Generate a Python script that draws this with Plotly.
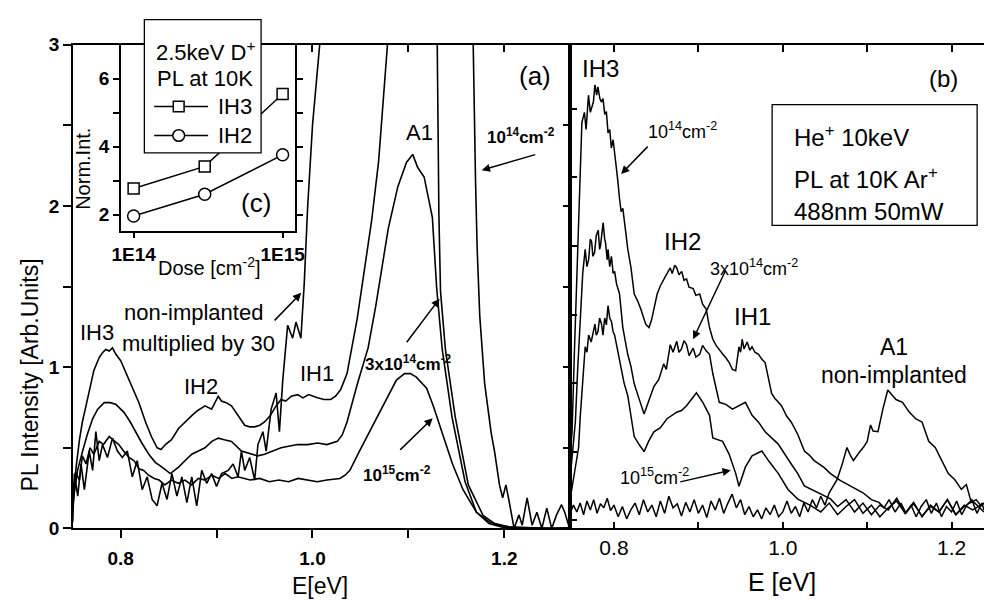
import plotly.graph_objects as go

FONT = "Liberation Sans"
W, H = 994, 607

# ---------------- panel (a): 2.5 keV D+ implanted, PL intensity ----------------
# non-implanted, multiplied by 30
E_a_ni = [0.750, 0.7517, 0.7552, 0.7586, 0.7621, 0.7672, 0.7707, 0.7741, 0.7776, 0.781,
          0.7862, 0.7914, 0.7966, 0.8017, 0.8069, 0.8121, 0.8172, 0.8224, 0.8276, 0.8328,
          0.8379, 0.8431, 0.8483, 0.8534, 0.8586, 0.8638, 0.869, 0.8741, 0.8793, 0.8845,
          0.8897, 0.8948, 0.9, 0.9052, 0.9121, 0.9172, 0.9224, 0.9259, 0.9293, 0.9345,
          0.9397, 0.9431, 0.9483, 0.9517, 0.9569, 0.9621, 0.9655, 0.969, 0.9741, 0.9793,
          0.9828, 0.9879, 0.9914, 0.995, 1.0, 1.007, 1.03, 1.10, 1.15, 1.1676,
          1.1686, 1.17, 1.1717, 1.1744, 1.1795, 1.1864, 1.1898, 1.195, 1.1983, 1.2017,
          1.205, 1.2102, 1.2153, 1.2187, 1.2238, 1.229, 1.234, 1.2392, 1.2443, 1.2494,
          1.2545, 1.2597, 1.263, 1.2682]
I_a_ni = [0.04, 0.34, 0.20, 0.40, 0.24, 0.48, 0.36, 0.60, 0.42, 0.52,
          0.44, 0.56, 0.48, 0.44, 0.48, 0.32, 0.42, 0.24, 0.32, 0.18,
          0.14, 0.28, 0.18, 0.34, 0.20, 0.32, 0.16, 0.32, 0.14, 0.36,
          0.28, 0.34, 0.26, 0.34, 0.36, 0.40, 0.32, 0.48, 0.36, 0.44,
          0.30, 0.52, 0.60, 0.48, 0.74, 0.84, 0.60, 0.92, 1.26, 1.18,
          1.28, 1.18, 1.52, 2.0, 2.5, 3.05, 4.5, 5.0, 4.2, 3.0,
          2.58, 2.16, 1.74, 1.32, 0.90, 0.59, 0.48, 0.27, 0.19, 0.27,
          0.17, 0.0, 0.084, 0.02, 0.19, 0.02, 0.10, 0.0, 0.126, 0.0,
          0.084, 0.147, 0.10, 0.0]

# 1e14 cm-2
E_a_14 = [0.750, 0.7535, 0.757, 0.760, 0.7638, 0.768, 0.772, 0.7776, 0.781, 0.7845,
          0.788, 0.7914, 0.795, 0.800, 0.806, 0.812, 0.819, 0.8259, 0.832, 0.838,
          0.842, 0.8466, 0.853, 0.8603, 0.867, 0.8741, 0.880, 0.8879, 0.8948, 0.898,
          0.9017, 0.905, 0.910, 0.9155, 0.922, 0.9293, 0.9345, 0.9397, 0.945, 0.950,
          0.956, 0.962, 0.9672, 0.972, 0.978, 0.9845, 0.990, 0.996, 1.0052, 1.012,
          1.019, 1.024, 1.0293, 1.036, 1.0466, 1.054, 1.0617, 1.069, 1.075, 1.082,
          1.10, 1.12, 1.1301, 1.1318, 1.1335, 1.1386, 1.1489, 1.1625, 1.1779, 1.19,
          1.205, 1.23, 1.25, 1.2686]
I_a_14 = [0.12, 0.38, 0.55, 0.66, 0.76, 0.88, 0.98, 1.06, 1.09, 1.11,
          1.10, 1.12, 1.08, 1.04, 0.96, 0.88, 0.78, 0.66, 0.57, 0.50,
          0.49, 0.52, 0.55, 0.62, 0.66, 0.70, 0.73, 0.76, 0.74, 0.78,
          0.82, 0.79, 0.78, 0.76, 0.70, 0.64, 0.63, 0.63, 0.64, 0.66,
          0.70, 0.76, 0.80, 0.79, 0.82, 0.83, 0.81, 0.83, 0.81, 0.80,
          0.80, 0.82, 0.86, 0.96, 1.30, 1.60, 1.91, 2.28, 2.74, 3.30,
          4.20, 3.60, 3.00, 1.95, 1.47, 1.11, 0.69, 0.27, 0.08, 0.03,
          0.01, 0.005, 0.0, 0.005]

# 3e14 cm-2
E_a_3e14 = [0.750, 0.755, 0.7603, 0.765, 0.7707, 0.776, 0.7828, 0.789, 0.7948, 0.8034,
            0.810, 0.8155, 0.822, 0.8293, 0.836, 0.8431, 0.8517, 0.856, 0.8603, 0.867,
            0.8741, 0.881, 0.8879, 0.895, 0.9017, 0.908, 0.9155, 0.9259, 0.9362, 0.943,
            0.950, 0.958, 0.9672, 0.975, 0.9845, 0.995, 1.0052, 1.015, 1.0259, 1.031,
            1.036, 1.047, 1.058, 1.066, 1.072, 1.079, 1.089, 1.098, 1.1045, 1.1096,
            1.1164, 1.120, 1.125, 1.1295, 1.1353, 1.1455, 1.1591, 1.171, 1.1846, 1.200,
            1.220, 1.2686]
I_a_3e14 = [0.15, 0.36, 0.48, 0.58, 0.68, 0.74, 0.78, 0.78, 0.77, 0.72,
            0.66, 0.60, 0.53, 0.46, 0.41, 0.38, 0.34, 0.36, 0.38, 0.42,
            0.46, 0.48, 0.50, 0.54, 0.56, 0.55, 0.54, 0.48, 0.46, 0.45,
            0.46, 0.48, 0.50, 0.51, 0.52, 0.52, 0.53, 0.52, 0.54, 0.58,
            0.66, 0.90, 1.12, 1.38, 1.60, 1.86, 2.12, 2.27, 2.32, 2.24,
            2.18, 2.08, 1.93, 1.49, 1.11, 0.69, 0.29, 0.10, 0.04, 0.01,
            0.0, 0.0]

# 1e15 cm-2
E_a_15 = [0.750, 0.753, 0.757, 0.760, 0.7638, 0.768, 0.772, 0.7776, 0.782, 0.788,
          0.792, 0.798, 0.803, 0.8086, 0.814, 0.819, 0.824, 0.829, 0.835, 0.840,
          0.846, 0.853, 0.860, 0.867, 0.874, 0.881, 0.888, 0.895, 0.902, 0.909,
          0.916, 0.922, 0.929, 0.935, 0.945, 0.955, 0.965, 0.975, 0.985, 0.995,
          1.005, 1.015, 1.0286, 1.034, 1.039, 1.049, 1.063, 1.077, 1.0875, 1.096,
          1.102, 1.108, 1.119, 1.126, 1.136, 1.146, 1.157, 1.171, 1.184, 1.200,
          1.220, 1.2686]
I_a_15 = [0.22, 0.35, 0.30, 0.45, 0.40, 0.50, 0.46, 0.54, 0.52, 0.57,
          0.55, 0.52, 0.48, 0.44, 0.42, 0.37, 0.36, 0.33, 0.31, 0.30,
          0.27, 0.30, 0.28, 0.30, 0.27, 0.31, 0.30, 0.33, 0.31, 0.34,
          0.31, 0.32, 0.31, 0.30, 0.31, 0.29, 0.30, 0.29, 0.31, 0.30,
          0.29, 0.30, 0.31, 0.33, 0.36, 0.48, 0.64, 0.80, 0.92, 0.96,
          0.96, 0.94, 0.87, 0.76, 0.58, 0.40, 0.24, 0.10, 0.03, 0.005,
          0.0, 0.0]

# ---------------- panel (b): 10 keV He+ implanted ----------------
E_b_14 = [0.748, 0.7504, 0.753, 0.756, 0.759, 0.762, 0.765, 0.767, 0.7698, 0.772,
          0.7756, 0.7775, 0.7795, 0.781, 0.7833, 0.7853, 0.787, 0.7891, 0.791, 0.793,
          0.795, 0.7969, 0.799, 0.8008, 0.8025, 0.8047, 0.8065, 0.8085, 0.8105, 0.8124,
          0.814, 0.8163, 0.818, 0.8202, 0.822, 0.824, 0.828, 0.8318, 0.8376, 0.8415,
          0.8445, 0.8473, 0.8512, 0.855, 0.8589, 0.862, 0.8667, 0.869, 0.872, 0.8744,
          0.877, 0.8802, 0.883, 0.886, 0.889, 0.8938, 0.897, 0.9016, 0.905, 0.9093,
          0.9132, 0.9171, 0.921, 0.9248, 0.929, 0.9326, 0.9365, 0.9403, 0.9442, 0.9481,
          0.950, 0.9519, 0.954, 0.9578, 0.961, 0.9636, 0.967, 0.9713, 0.975, 0.9791,
          0.983, 0.9868, 0.9905, 0.9985, 1.0045, 1.0101, 1.0178, 1.0256, 1.0314, 1.0372,
          1.0488, 1.0566, 1.068, 1.0798, 1.095, 1.105, 1.114, 1.120, 1.126, 1.133,
          1.140, 1.146, 1.152, 1.158, 1.164, 1.170, 1.176, 1.182, 1.188, 1.194,
          1.200, 1.206, 1.212, 1.218, 1.224, 1.230, 1.236, 1.2384]
I_b_14 = [0.9, 1.3, 2.4, 3.6, 4.8, 5.8, 5.95, 5.7, 6.2, 5.95,
          6.1, 6.35, 6.2, 6.32, 6.15, 6.1, 6.15, 5.92, 5.96, 5.65,
          5.7, 5.43, 5.55, 5.38, 5.2, 4.94, 4.7, 4.5, 4.55, 4.39,
          4.2, 3.96, 3.85, 3.68, 3.5, 3.3, 3.2, 3.08, 2.86, 2.81,
          2.92, 3.08, 3.3, 3.42, 3.52, 3.58, 3.68, 3.6, 3.72, 3.68,
          3.58, 3.63, 3.5, 3.52, 3.4, 3.38, 3.28, 3.3, 3.15, 3.08,
          2.81, 2.64, 2.55, 2.48, 2.42, 2.37, 2.3, 2.2, 2.18, 2.53,
          2.45, 2.64, 2.5, 2.6, 2.48, 2.53, 2.45, 2.42, 2.35, 2.3,
          2.09, 1.85, 1.78, 1.67, 1.52, 1.43, 1.25, 1.01, 0.95, 0.87,
          0.77, 0.68, 0.58, 0.50, 0.40, 0.30, 0.26, 0.18, 0.30, 0.12,
          0.25, 0.10, 0.22, 0.05, 0.20, 0.30, 0.10, 0.25, 0.05, 0.20,
          0.12, 0.28, 0.08, 0.22, 0.30, 0.10, 0.25, 0.15]

E_b_3e14 = [0.748, 0.7543, 0.757, 0.760, 0.763, 0.7659, 0.768, 0.770, 0.772, 0.7736,
            0.775, 0.777, 0.779, 0.7814, 0.783, 0.784, 0.786, 0.7872, 0.789, 0.790,
            0.792, 0.793, 0.795, 0.797, 0.799, 0.8008, 0.803, 0.8066, 0.8105, 0.8163,
            0.820, 0.824, 0.8298, 0.8357, 0.840, 0.8473, 0.853, 0.8589, 0.862, 0.8667,
            0.870, 0.8744, 0.877, 0.880, 0.883, 0.886, 0.889, 0.8938, 0.897, 0.9016,
            0.905, 0.9093, 0.9132, 0.9171, 0.9248, 0.9326, 0.9403, 0.9481, 0.9558, 0.9636,
            0.9713, 0.9791, 0.9868, 0.9946, 1.01, 1.0178, 1.0256, 1.041, 1.0566, 1.065,
            1.075, 1.085, 1.095, 1.105, 1.115, 1.125, 1.135, 1.145, 1.155, 1.165,
            1.175, 1.185, 1.195, 1.205, 1.215, 1.225, 1.2384]
I_b_3e14 = [0.6, 1.44, 2.2, 3.0, 3.6, 3.95, 3.7, 3.8, 4.1, 4.06,
            3.85, 3.9, 4.15, 4.23, 3.95, 4.0, 4.25, 4.34, 4.1, 4.05,
            3.8, 3.95, 3.7, 3.85, 3.6, 3.63, 3.45, 3.3, 2.81, 2.42,
            2.25, 1.99, 1.77, 1.55, 1.7, 1.95, 2.05, 2.28, 2.2, 2.56,
            2.45, 2.61, 2.45, 2.5, 2.62, 2.56, 2.4, 2.51, 2.38, 2.42,
            2.55, 2.47, 2.42, 2.14, 1.72, 1.69, 1.62, 1.67, 1.72, 1.53,
            1.43, 1.29, 1.2, 1.11, 0.82, 0.68, 0.5, 0.4, 0.31, 0.2,
            0.3, 0.12, 0.25, 0.08, 0.22, 0.15, 0.32, 0.1, 0.26, 0.05,
            0.22, 0.12, 0.3, 0.08, 0.2, 0.28, 0.12]

E_b_15 = [0.748, 0.7581, 0.760, 0.762, 0.764, 0.7659, 0.768, 0.770, 0.773, 0.7775,
          0.779, 0.781, 0.783, 0.7853, 0.787, 0.789, 0.791, 0.793, 0.795, 0.797,
          0.799, 0.8008, 0.804, 0.8085, 0.812, 0.8163, 0.820, 0.824, 0.830, 0.8357,
          0.841, 0.8473, 0.855, 0.8628, 0.8744, 0.880, 0.886, 0.8977, 0.9054, 0.9132,
          0.9171, 0.923, 0.9287, 0.9364, 0.9442, 0.9481, 0.9558, 0.9636, 0.9695, 0.9752,
          0.983, 0.9946, 1.0062, 1.0178, 1.0333, 1.045, 1.055, 1.065, 1.075, 1.085,
          1.095, 1.105, 1.115, 1.125, 1.135, 1.145, 1.155, 1.165, 1.175, 1.185,
          1.195, 1.205, 1.215, 1.225, 1.2384]
I_b_15 = [0.3, 1.06, 1.5, 1.9, 2.3, 2.53, 2.45, 2.7, 2.6, 2.86,
          2.7, 2.75, 2.95, 2.86, 2.7, 2.95, 2.85, 3.13, 2.95, 2.9,
          2.75, 2.7, 2.5, 2.2, 2.0, 1.82, 1.5, 1.22, 1.1, 1.0,
          1.15, 1.29, 1.35, 1.48, 1.575, 1.6, 1.67, 1.857, 1.716, 1.53,
          1.2, 1.18, 1.15, 0.964, 0.683, 0.495, 0.777, 0.94, 0.98, 1.01,
          0.87, 0.683, 0.448, 0.307, 0.213, 0.12, 0.25, 0.08, 0.2, 0.3,
          0.1, 0.22, 0.05, 0.18, 0.28, 0.1, 0.24, 0.06, 0.2, 0.12,
          0.3, 0.08, 0.22, 0.15, 0.25]

E_b_ni = [0.748, 0.752, 0.756, 0.760, 0.764, 0.768, 0.772, 0.776, 0.780, 0.784,
          0.788, 0.792, 0.796, 0.800, 0.805, 0.810, 0.815, 0.820, 0.825, 0.830,
          0.835, 0.840, 0.845, 0.850, 0.855, 0.860, 0.865, 0.870, 0.875, 0.880,
          0.885, 0.890, 0.895, 0.900, 0.905, 0.910, 0.915, 0.920, 0.925, 0.930,
          0.935, 0.940, 0.945, 0.950, 0.955, 0.960, 0.965, 0.970, 0.975, 0.980,
          0.985, 0.990, 0.995, 1.000, 1.005, 1.010, 1.015, 1.020, 1.025, 1.030,
          1.035, 1.040, 1.045, 1.050, 1.055, 1.0643, 1.070, 1.076, 1.080, 1.0837,
          1.090, 1.0953, 1.100, 1.104, 1.107, 1.1128, 1.1186, 1.1244, 1.130, 1.1341,
          1.1419, 1.1496, 1.1574, 1.1651, 1.1729, 1.1806, 1.1884, 1.1961, 1.2039, 1.2116,
          1.2175, 1.2233, 1.229, 1.2349, 1.2384]
I_b_ni = [0.10, 0.22, 0.12, 0.25, 0.08, 0.28, 0.15, 0.30, 0.10, 0.24,
          0.18, 0.32, 0.14, 0.22, 0.05, 0.20, 0.02, 0.15, 0.25, 0.08,
          0.30, 0.12, 0.22, 0.05, 0.28, 0.10, 0.35, 0.18, 0.24, 0.06,
          0.26, 0.12, 0.30, 0.10, 0.22, 0.04, 0.28, 0.15, 0.32, 0.10,
          0.25, 0.38, 0.18, 0.30, 0.08, 0.20, 0.05, 0.15, 0.02, 0.18,
          0.08, 0.22, 0.05, 0.12, 0.28, 0.10, 0.20, 0.05, 0.25, 0.12,
          0.30, 0.18, 0.35, 0.22, 0.40, 0.59, 0.80, 1.06, 0.95, 0.87,
          0.98, 1.06, 1.15, 1.39, 1.30, 1.29, 1.62, 1.90, 1.82, 1.76,
          1.72, 1.58, 1.48, 1.43, 1.15, 1.06, 0.87, 0.68, 0.59, 0.45,
          0.52, 0.26, 0.30, 0.21, 0.25]

# ---------------- inset (c): normalised intensity vs dose ----------------
dose = [1e14, 3e14, 1e15]
norm_IH3 = [2.77, 3.42, 5.55]
norm_IH2 = [1.96, 2.60, 3.76]

# tick labels
tick_E = [0.8, 0.9, 1.0, 1.1, 1.2]
tick_E_text = ["0.8", "", "1.0", "", "1.2"]
tick_Ia = [0, 0.5, 1, 1.5, 2, 2.5, 3]
tick_Ia_text = ["0", "", "1", "", "2", "", "3"]
tick_dose = [1e14, 1e15]
tick_dose_text = ["1E14", "1E15"]
tick_norm = [2, 3, 4, 5, 6]
tick_norm_text = ["2", "", "4", "", "6"]

# ---------------- layout geometry (pixels) ----------------
def fx(px):
    return px / W

def fy(py):
    return 1 - py / H

A_X = [fx(65), fx(572)]
B_X = [fx(572), 1.0]
MAIN_Y = [fy(537), fy(36)]
IN_X = [fx(114), fx(292)]
IN_Y = [fy(228.5), fy(36)]

RANGE_A = [0.75, 1.2686]
RANGE_B = [0.748, 1.2384]

fig = go.Figure()
la = dict(color="black", width=1.6)
lb = dict(color="black", width=1.5)

for xs, ys in [(E_a_ni, I_a_ni), (E_a_3e14, I_a_3e14), (E_a_15, I_a_15)]:
    fig.add_trace(go.Scatter(x=xs, y=ys, mode="lines", line=la, xaxis="x", yaxis="y",
                             showlegend=False, hoverinfo="skip"))
fig.add_trace(go.Scatter(x=E_a_14, y=I_a_14, mode="lines", line=la, xaxis="x3", yaxis="y3",
                         showlegend=False, hoverinfo="skip"))

for xs, ys in [(E_b_14, I_b_14), (E_b_3e14, I_b_3e14), (E_b_15, I_b_15), (E_b_ni, I_b_ni)]:
    fig.add_trace(go.Scatter(x=xs, y=ys, mode="lines", line=lb, xaxis="x2", yaxis="y2",
                             showlegend=False, hoverinfo="skip"))

fig.add_trace(go.Scatter(x=dose, y=norm_IH3, mode="lines+markers", name="IH3",
                         xaxis="x4", yaxis="y4", showlegend=False, hoverinfo="skip",
                         line=dict(color="black", width=1.5),
                         marker=dict(symbol="square", size=11, color="white",
                                     line=dict(color="black", width=1.5))))
fig.add_trace(go.Scatter(x=dose, y=norm_IH2, mode="lines+markers", name="IH2",
                         xaxis="x4", yaxis="y4", showlegend=False, hoverinfo="skip",
                         line=dict(color="black", width=1.5),
                         marker=dict(symbol="circle", size=12, color="white",
                                     line=dict(color="black", width=1.5))))

bold19 = dict(family=FONT, size=19, color="black", weight="bold")
axline = dict(showline=True, linecolor="black", linewidth=1.5, showgrid=False, zeroline=False,
              tickcolor="black", tickwidth=1.5)

fig.update_layout(
    width=W, height=H, autosize=False,
    margin=dict(l=0, r=0, t=0, b=0),
    paper_bgcolor="white", plot_bgcolor="white",
    font=dict(family=FONT, color="black"),
    showlegend=False,
    xaxis=dict(domain=A_X, range=RANGE_A, anchor="y", tickvals=tick_E, ticktext=tick_E_text,
               ticks="outside", ticklen=8, tickfont=bold19, ticklabelstandoff=4, **axline),
    yaxis=dict(domain=MAIN_Y, range=[0, 3], anchor="x", tickvals=tick_Ia, ticktext=tick_Ia_text,
               ticks="outside", ticklen=8, tickfont=bold19, **axline),
    xaxis3=dict(overlaying="x", side="top", anchor="y", range=RANGE_A, tickvals=tick_E,
                ticks="inside", ticklen=7, showticklabels=False, **axline),
    yaxis3=dict(overlaying="y", side="right", anchor="x", range=[0, 3], tickvals=tick_Ia,
                ticks="inside", ticklen=7, showticklabels=False, **axline),
    xaxis2=dict(domain=B_X, range=RANGE_B, anchor="y2", tickvals=tick_E, ticktext=tick_E_text,
                ticks="inside", ticklen=7, mirror="ticks",
                tickfont=dict(family=FONT, size=21, color="black"), **axline),
    yaxis2=dict(domain=MAIN_Y, range=[-0.12, 6.936], anchor="x2", dtick=1, tick0=0,
                ticks="inside", ticklen=7, showticklabels=False, **axline),
    xaxis4=dict(domain=IN_X, range=[13.914, 15.086], type="log", anchor="y4",
                tickvals=tick_dose, ticktext=tick_dose_text, ticks="outside", ticklen=6,
                mirror=True, tickfont=bold19, ticklabelstandoff=0, **axline),
    yaxis4=dict(domain=IN_Y, range=[1.53, 7.0], anchor="x4", tickvals=tick_norm,
                ticktext=tick_norm_text, ticks="outside", ticklen=6, mirror="ticks",
                tickfont=bold19, **axline),
)

def txt(px, py, text, size, bold=False, angle=0, xanchor="center"):
    return dict(x=fx(px), y=fy(py), xref="paper", yref="paper", text=text, showarrow=False,
                font=dict(family=FONT, size=size, color="black",
                          weight="bold" if bold else "normal"),
                xanchor=xanchor, yanchor="middle", textangle=angle)

def arrow(x, y, ax, ay, xr, yr):
    return dict(x=x, y=y, xref=xr, yref=yr, ax=ax, ay=ay, axref="pixel", ayref="pixel",
                text="", showarrow=True, arrowhead=2, arrowsize=1.1, arrowwidth=1.5,
                arrowcolor="black")

ann = [
    # inset legend text
    txt(148, 42, "2.5keV D<sup>+</sup>", 22, xanchor="left"),
    txt(149, 71, "PL at 10K", 22, xanchor="left"),
    txt(211, 100, "IH3", 22, xanchor="left"),
    txt(211, 130, "IH2", 22, xanchor="left"),
    # panel a
    txt(90, 334, "IH3", 22), txt(196, 390, "IH2", 22), txt(314, 377, "IH1", 22),
    txt(188, 313, "non-implanted", 22), txt(193, 345, "multiplied by 30", 22),
    txt(419, 127, "A1", 22), txt(536, 68, "(a)", 26),
    txt(522, 130, "10<sup>14</sup>cm<sup>-2</sup>", 17, bold=True),
    txt(407, 366, "3x10<sup>14</sup>cm<sup>-2</sup>", 17, bold=True),
    txt(396, 481, "10<sup>15</sup>cm<sup>-2</sup>", 17, bold=True),
    txt(252, 200, "(c)", 26),
    txt(76, 165, "Norm.Int.", 20, angle=-90),
    txt(204, 266, "Dose [cm<sup>-2</sup>]", 20),
    txt(317, 597, "E[eV]", 23),
    txt(21, 378, "PL Intensity [Arb.Units]", 23, angle=-90),
    arrow(0.9882, 1.461, -28, 29, "x", "y"),
    arrow(1.1325, 1.425, -34, 45, "x", "y"),
    arrow(1.1253, 0.683, -34, 33, "x", "y"),
    arrow(1.1765, 2.222, 55, -16, "x", "y"),
    # panel b
    txt(603, 61, "IH3", 24), txt(953, 71, "(b)", 24),
    txt(798, 131, "He<sup>+</sup> 10keV", 24, xanchor="left"),
    txt(798, 174, "PL at 10K Ar<sup>+</sup>", 24, xanchor="left"),
    txt(798, 209, "488nm 50mW", 24, xanchor="left"),
    txt(687, 125, "10<sup>14</sup>cm<sup>-2</sup>", 18),
    txt(687, 240, "IH2", 24),
    txt(760, 267, "3x10<sup>14</sup>cm<sup>-2</sup>", 18),
    txt(758, 318, "IH1", 24),
    txt(902, 349, "A1", 23), txt(902, 378, "non-implanted", 23),
    txt(658, 483, "10<sup>15</sup>cm<sup>-2</sup>", 18),
    txt(788, 592, "E [eV]", 25),
    arrow(0.8085, 5.049, 28, -29, "x2", "y2"),
    arrow(0.8938, 2.64, 33, -70, "x2", "y2"),
    arrow(0.9384, 0.729, -52, 12, "x2", "y2"),
]
fig.update_layout(annotations=ann)

def rect(x0, y0, x1, y1, width=1.3, fill="white"):
    fig.add_shape(type="rect", xref="paper", yref="paper", x0=fx(x0), x1=fx(x1),
                  y0=fy(y1), y1=fy(y0), line=dict(color="black", width=width),
                  fillcolor=fill, layer="above")

# text box of panel (b)
rect(778, 98, 987, 223)
# inset legend box with its two symbol keys
rect(138, 10, 257, 148)
for yk in (100, 130):
    fig.add_shape(type="line", xref="paper", yref="paper", x0=fx(148), x1=fx(203),
                  y0=fy(yk), y1=fy(yk), line=dict(color="black", width=1.5), layer="above")
rect(167.5, 94.5, 178.5, 105.5, width=1.5)
fig.add_shape(type="circle", xref="paper", yref="paper", x0=fx(167), x1=fx(179),
              y0=fy(136), y1=fy(124), line=dict(color="black", width=1.5),
              fillcolor="white", layer="above")

fig.write_html("out.html", config={"displayModeBar": False},
               post_script="document.body.style.margin='0px';")
